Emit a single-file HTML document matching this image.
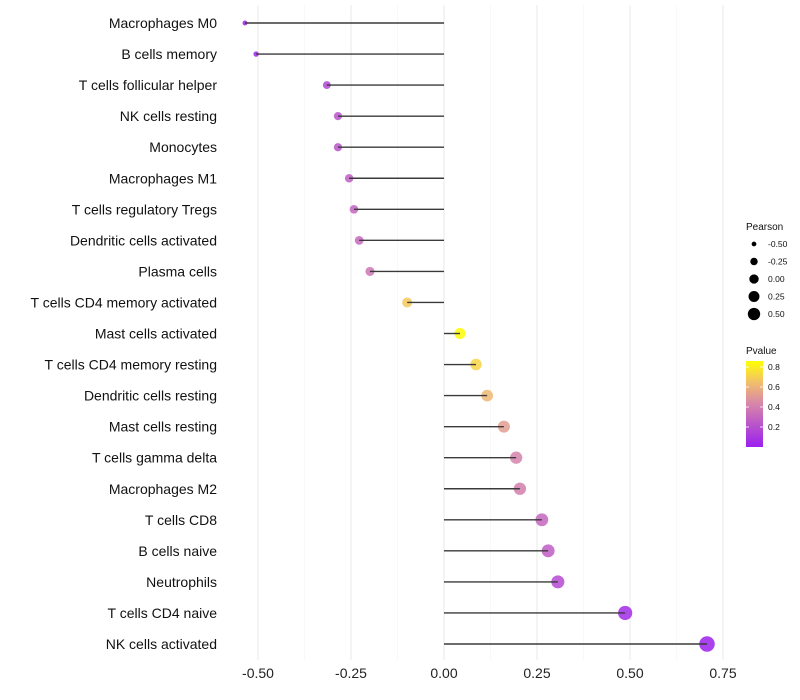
<!DOCTYPE html>
<html><head><meta charset="utf-8"><style>
body{margin:0;background:#fff;font-family:"Liberation Sans",sans-serif}
svg{display:block}
</style></head><body>
<svg id="c" width="800" height="700" xmlns="http://www.w3.org/2000/svg"></svg>
<script>
const categories=["Macrophages M0","B cells memory","T cells follicular helper","NK cells resting","Monocytes","Macrophages M1","T cells regulatory  Tregs ","Dendritic cells activated","Plasma cells","T cells CD4 memory activated","Mast cells activated","T cells CD4 memory resting","Dendritic cells resting","Mast cells resting","T cells gamma delta","Macrophages M2","T cells CD8","B cells naive","Neutrophils","T cells CD4 naive","NK cells activated"];
const pearson=[-0.535,-0.505,-0.315,-0.285,-0.285,-0.255,-0.242,-0.228,-0.199,-0.099,0.043,0.086,0.116,0.161,0.194,0.204,0.263,0.280,0.306,0.487,0.707];
const pvalue=[0.01,0.02,0.17,0.22,0.22,0.27,0.29,0.31,0.36,0.68,0.85,0.72,0.62,0.52,0.42,0.4,0.3,0.26,0.18,0.05,0.01];
const xTicks=[-0.5,-0.25,0,0.25,0.5,0.75];
const xTickLabels=["-0.50","-0.25","0.00","0.25","0.50","0.75"];
const sizeBreaks=[-0.5,-0.25,0,0.25,0.5];
const sizeLabels=["-0.50","-0.25","0.00","0.25","0.50"];
const pBreaks=[0.2,0.4,0.6,0.8];

const NS="http://www.w3.org/2000/svg";
const svg=document.getElementById("c");
function el(t,a,p){const e=document.createElementNS(NS,t);for(const k in a)e.setAttribute(k,a[k]);(p||svg).appendChild(e);return e;}
const x=v=>444+v*372;
const y=i=>23+i*31.05;
const r=v=>Math.sqrt(Math.max(1,24.25+36*v));
const stops=[[0,[155,31,239]],[0.45,[217,138,166]],[0.65,[242,192,106]],[0.86,[255,255,0]]];
function col(p){p=Math.max(0,Math.min(0.86,p));for(let i=0;i<stops.length-1;i++){const[a,ca]=stops[i],[b,cb]=stops[i+1];if(p<=b){const t=(p-a)/(b-a);return "rgb("+ca.map((c,j)=>Math.round(c+(cb[j]-c)*t)).join(",")+")";}}return "rgb(255,255,0)";}

for(let i=0;i<xTicks.length;i++){
  const g=el("line",{x1:x(xTicks[i]),x2:x(xTicks[i]),y1:5,y2:660,stroke:"#EBEBEB","stroke-width":1.1});
  
  if(i<xTicks.length-1){const m=(xTicks[i]+xTicks[i+1])/2;const g2=el("line",{x1:x(m),x2:x(m),y1:5,y2:660,stroke:"#F3F3F3","stroke-width":0.6});
  }
  const t=el("text",{x:x(xTicks[i]),y:678,"text-anchor":"middle","font-size":14,fill:"#222"});t.textContent=xTickLabels[i];
  
}
categories.forEach((c,i)=>{
  const t=el("text",{x:217,y:y(i)+5,"text-anchor":"end","font-size":14,fill:"#111"});t.textContent=c;
  
  const p=el("circle",{cx:x(pearson[i]),cy:y(i),r:r(pearson[i])*1.1,fill:col(pvalue[i]),"fill-opacity":0.85});
  
  const s=el("line",{x1:x(0),x2:x(pearson[i]),y1:y(i),y2:y(i),stroke:"#3a3a3a","stroke-width":1.4});
  
});
const lt=el("text",{x:746,y:230,"font-size":10,fill:"#111"});lt.textContent="Pearson";

sizeBreaks.forEach((v,i)=>{
  const yy=244+i*17.5;
  const cc=el("circle",{cx:754,cy:yy,r:r(v)*0.95,fill:"#000"});
  
  const tt=el("text",{x:768,y:yy+3,"font-size":8.5,fill:"#111"});tt.textContent=sizeLabels[i];
  
});
const pt=el("text",{x:746,y:354,"font-size":10,fill:"#111"});pt.textContent="Pvalue";

const defs=el("defs",{});const lg=el("linearGradient",{id:"pg",x1:0,y1:1,x2:0,y2:0},defs);
stops.forEach(s=>el("stop",{offset:s[0]/0.86,"stop-color":"rgb("+s[1].join(",")+")"},lg));
const pyy=p=>447-p*100;
const bar=el("rect",{x:746,y:361,width:17,height:86,fill:"url(#pg)"});

pBreaks.forEach(p=>{
  el("line",{x1:746,x2:749,y1:pyy(p),y2:pyy(p),stroke:"#fff","stroke-width":0.8});
  el("line",{x1:760,x2:763,y1:pyy(p),y2:pyy(p),stroke:"#fff","stroke-width":0.8});
  const t=el("text",{x:768,y:pyy(p)+3,"font-size":8.5,fill:"#111"});t.textContent=p.toFixed(1);
  
});
</script>
</body></html>
